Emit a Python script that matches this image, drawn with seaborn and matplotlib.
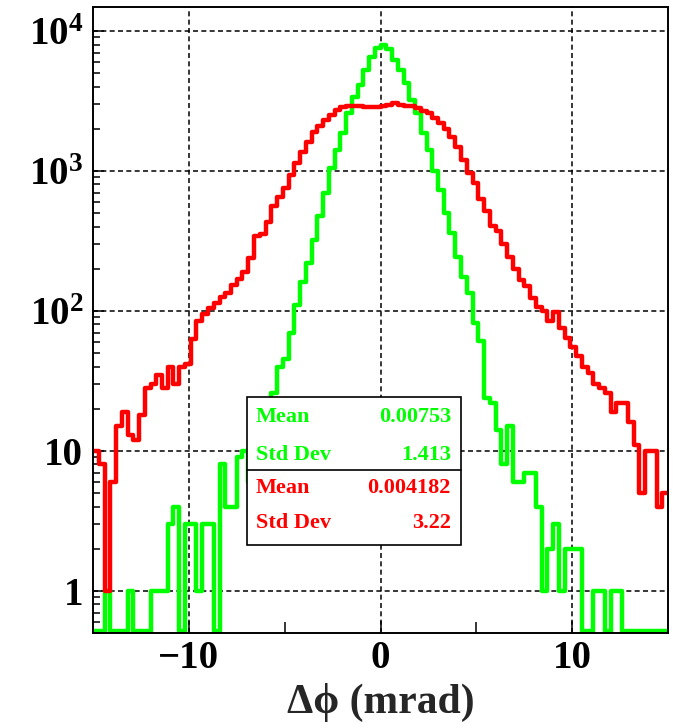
import numpy as np
import pandas as pd
import matplotlib
matplotlib.use("Agg")
import matplotlib.pyplot as plt
import seaborn as sns
from matplotlib.patches import Rectangle
from matplotlib.ticker import LogLocator, NullFormatter, FixedLocator

# ---------------- data ----------------
x_min, x_max, n_bins = -15.0, 15.0, 100

green_counts = [
    0, 0, 1, 0, 0, 0, 1, 0, 0, 0,
    1, 1, 1, 3, 4, 0, 3, 3, 1, 3,
    3, 0, 8, 4, 4, 9, 10, 6, 12, 16,
    20, 26, 40, 45, 70, 110, 160, 220, 320, 480,
    690, 1050, 1410, 1870, 2590, 3400, 4110, 5260, 6550, 7600,
    7950, 7400, 6200, 5260, 4230, 3210, 2580, 1860, 1410, 1000,
    730, 500, 360, 243, 176, 134, 82, 61, 24, 22,
    14, 8, 15, 6, 6, 7, 7, 4, 1, 2,
    3, 1, 2, 2, 2, 0, 0, 1, 1, 0,
    1, 1, 0, 0, 0, 0, 0, 0, 0, 0,
]

red_counts = [
    10, 8, 1, 6, 15, 19, 13, 12, 18, 28,
    30, 35, 28, 40, 30, 40, 42, 63, 84, 95,
    105, 114, 125, 135, 153, 170, 190, 240, 345, 355,
    430, 560, 650, 760, 940, 1140, 1370, 1620, 1900, 2100,
    2300, 2500, 2730, 2850, 2900, 2920, 2900, 2880, 2850, 2870,
    2900, 2950, 3040, 2950, 2900, 2900, 2800, 2700, 2580, 2380,
    2200, 2000, 1760, 1490, 1200, 960, 815, 630, 520, 404,
    373, 300, 244, 200, 166, 150, 124, 107, 100, 85,
    98, 75, 64, 55, 48, 40, 36, 30, 28, 26,
    19, 22, 22, 16, 11, 5, 10, 10, 4, 5,
]

x_ticks = [-10, 0, 10]
x_tick_labels = ["\u221210", "0", "10"]
x_minor_ticks = [-5, 5]
y_ticks = [1, 10, 100, 1000, 10000]
y_tick_labels = ["1", "10", r"$10^{2}$", r"$10^{3}$", r"$10^{4}$"]
x_title = "\u0394\u03d5 (mrad)"

stat_labels = ["Mean", "Std Dev", "Mean", "Std Dev"]
stat_values = ["0.00753", "1.413", "0.004182", "3.22"]
stat_colors = ["#00ff00", "#00ff00", "#ff0000", "#ff0000"]

# ---------------- style ----------------
sns.set_style("ticks")
plt.rcParams["font.family"] = ["Liberation Serif", "DejaVu Serif"]
plt.rcParams["font.weight"] = "bold"
plt.rcParams["mathtext.fontset"] = "custom"
plt.rcParams["mathtext.rm"] = "Liberation Serif:bold"
plt.rcParams["mathtext.bf"] = "Liberation Serif:bold"
plt.rcParams["mathtext.it"] = "Liberation Serif:bold:italic"
plt.rcParams["mathtext.default"] = "rm"
plt.rcParams["lines.scale_dashes"] = False

edges = np.linspace(x_min, x_max, n_bins + 1)
centers = 0.5 * (edges[:-1] + edges[1:])
y_floor = 0.515  # zero bins are drawn on the frame bottom, as ROOT does

def frame(counts, name):
    c = np.asarray(counts, dtype=float)
    return pd.DataFrame({"dphi": centers, "entries": np.where(c > 0, c, y_floor), "series": name})

df_red = frame(red_counts, "red")
df_green = frame(green_counts, "green")

fig = plt.figure(figsize=(6.73, 7.24), dpi=100)
ax = fig.add_axes([93 / 673, 1 - 633 / 724, 575 / 673, 626 / 724])

for d, col in ((df_green, "#00ff00"), (df_red, "#ff0000")):
    sns.histplot(data=d, x="dphi", weights="entries", bins=n_bins, binrange=(x_min, x_max),
                 element="step", fill=False, color=col, linewidth=3.2, ax=ax, zorder=3)

ax.set_yscale("log")
ax.set_xlim(x_min, x_max)
ax.set_ylim(0.5, 10 ** 4.171)

ax.set_xticks(x_ticks, labels=x_tick_labels)
ax.xaxis.set_minor_locator(FixedLocator(x_minor_ticks))
ax.set_yticks(y_ticks, labels=y_tick_labels)
ax.yaxis.set_minor_locator(LogLocator(base=10, subs=np.arange(2, 10)))
ax.yaxis.set_minor_formatter(NullFormatter())

ax.tick_params(axis="both", which="both", direction="in", top=False, right=False,
               width=1.1, colors="black")
ax.tick_params(axis="x", which="major", length=9, pad=5, labelsize=28)
ax.tick_params(axis="x", which="minor", length=8)
ax.tick_params(axis="y", which="major", length=8, pad=7, labelsize=28)
ax.tick_params(axis="y", which="minor", length=5)

ax.grid(True, which="major", color="black", linestyle=(0, (3.6, 2.4)), linewidth=1.1)
ax.set_axisbelow(True)
for s in ax.spines.values():
    s.set_linewidth(1.4)
    s.set_color("black")
    s.set_zorder(5)

ax.set_xlabel(x_title, fontsize=30, fontweight="bold", labelpad=4)
ax.set_ylabel("")

# stats box
bx0, bx1 = (247 - 93) / 575, (461 - 93) / 575
by0, by1 = 1 - (545 - 7) / 626, 1 - (397 - 7) / 626
bdiv = 1 - (470 - 7) / 626
ax.add_patch(Rectangle((bx0, by0), bx1 - bx0, by1 - by0, transform=ax.transAxes,
                       facecolor="white", edgecolor="black", linewidth=1.2, zorder=10))
ax.plot([bx0, bx1], [bdiv, bdiv], transform=ax.transAxes, color="black",
        linewidth=1.2, zorder=11)
rows_y = [1 - (416.7 - 7) / 626, 1 - (455 - 7) / 626, 1 - (488 - 7) / 626, 1 - (523 - 7) / 626]
for lab, val, col, yy in zip(stat_labels, stat_values, stat_colors, rows_y):
    ax.text((256 - 93) / 575, yy, lab, transform=ax.transAxes, color=col, fontsize=16,
            fontweight="bold", ha="left", va="center", zorder=12)
    ax.text((451 - 93) / 575, yy, val, transform=ax.transAxes, color=col, fontsize=16,
            fontweight="bold", ha="right", va="center", zorder=12)

fig.savefig("out.png", dpi=100)
